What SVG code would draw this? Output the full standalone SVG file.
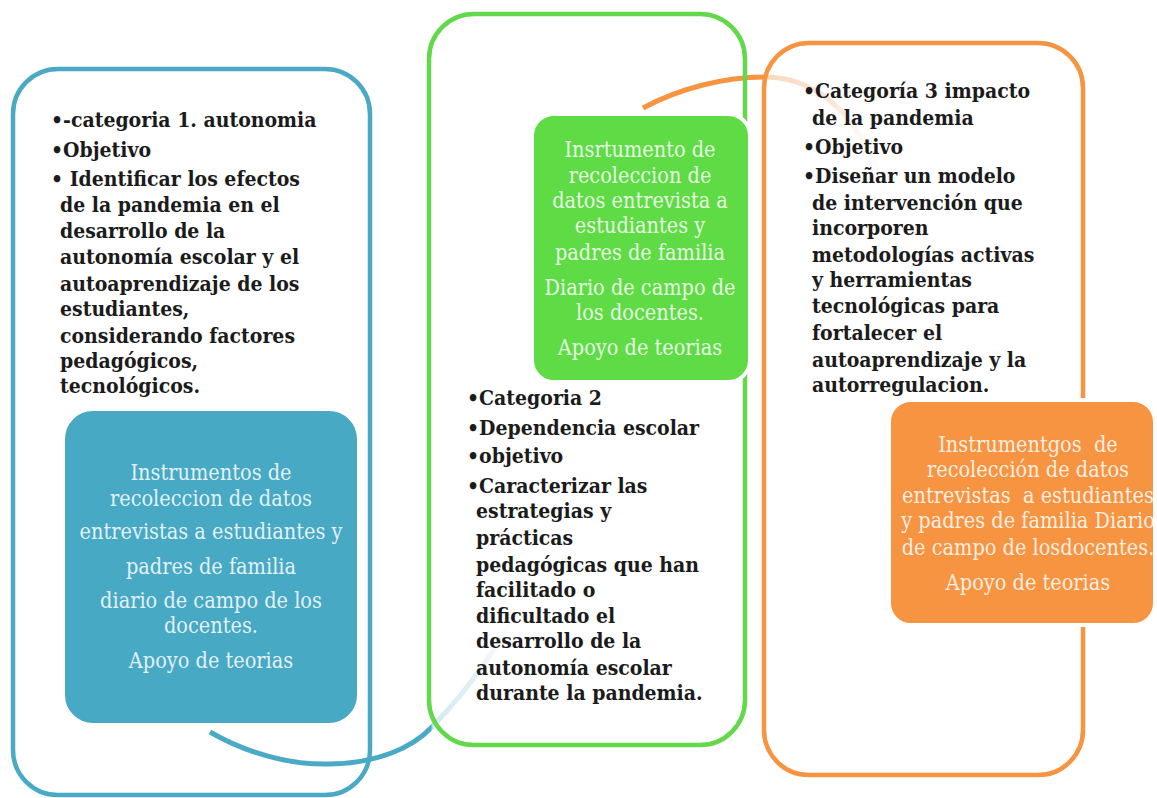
<svg xmlns="http://www.w3.org/2000/svg" width="1157" height="798" viewBox="0 0 1157 798">
<style>
.outer{fill:none;stroke-width:4.5}
.fill{stroke:#ffffff;stroke-width:4}
.b{font-family:"DejaVu Serif",serif;font-stretch:condensed;font-weight:bold;font-size:21px;fill:#1b1b1b}
.w{font-family:"DejaVu Serif",serif;font-stretch:condensed;font-size:21.5px;fill:#ffffff;fill-opacity:0.86;text-anchor:middle;white-space:pre}
.arc{fill:none;stroke-width:5;stroke-linecap:butt}
</style>
<defs>
<linearGradient id="gBlue" gradientUnits="userSpaceOnUse" x1="210" y1="0" x2="526" y2="0">
<stop offset="0" stop-color="#4AAAC5"/>
<stop offset="0.698" stop-color="#4AAAC5"/>
<stop offset="0.706" stop-color="#D3EBF1"/>
<stop offset="0.85" stop-color="#E2F1F5"/>
<stop offset="1" stop-color="#FFFFFF" stop-opacity="0"/>
</linearGradient>
<linearGradient id="gOrange" gradientUnits="userSpaceOnUse" x1="643" y1="0" x2="896" y2="0">
<stop offset="0" stop-color="#F69442"/>
<stop offset="0.476" stop-color="#F69442"/>
<stop offset="0.484" stop-color="#FAD8BE"/>
<stop offset="0.75" stop-color="#FBE6D6"/>
<stop offset="1" stop-color="#FFFFFF" stop-opacity="0"/>
</linearGradient>
</defs>
<rect width="1157" height="798" fill="#ffffff"/>
<g id="connectors">
<path class="arc" stroke="url(#gBlue)" d="M210,732 C255,758 300,765 330,764 C378,763 412,748 432,727 C468,690 505,640 522,595"/>
<path class="arc" stroke="url(#gOrange)" d="M643,108 C680,88 725,77 765,77 C820,77 870,120 892,218"/>
</g>
<g id="node1">
<rect class="outer" x="13" y="69" width="357" height="726" rx="45" stroke="#4AAAC5"/>
<text class="b" x="51" y="127">•-categoria 1. autonomia</text>
<text class="b" x="51" y="157">•Objetivo</text>
<text class="b" x="51" y="186">• Identificar los efectos</text>
<text class="b" x="60" y="212">de la pandemia en el</text>
<text class="b" x="60" y="238">desarrollo de la</text>
<text class="b" x="60" y="264">autonomía escolar y el</text>
<text class="b" x="60" y="291">autoaprendizaje de los</text>
<text class="b" x="60" y="316">estudiantes,</text>
<text class="b" x="60" y="343">considerando factores</text>
<text class="b" x="60" y="368">pedagógicos,</text>
<text class="b" x="60" y="393">tecnológicos.</text>
</g>
<g id="node1-instrumentos">
<rect class="fill" x="63" y="409" width="296" height="316" rx="30" fill="#48A9C4"/>
<text class="w" x="211" y="480">Instrumentos de</text>
<text class="w" x="211" y="506">recoleccion de datos</text>
<text class="w" x="211" y="539">entrevistas a estudiantes y</text>
<text class="w" x="211" y="574">padres de familia</text>
<text class="w" x="211" y="608">diario de campo de los</text>
<text class="w" x="211" y="633">docentes.</text>
<text class="w" x="211" y="668">Apoyo de teorias</text>
</g>
<g id="node2">
<rect class="outer" x="429" y="14" width="316" height="731" rx="45" stroke="#62D84A"/>
<text class="b" x="467" y="405">•Categoria 2</text>
<text class="b" x="467" y="435">•Dependencia escolar</text>
<text class="b" x="467" y="463">•objetivo</text>
<text class="b" x="467" y="493">•Caracterizar las</text>
<text class="b" x="476" y="518">estrategias y</text>
<text class="b" x="476" y="545">prácticas</text>
<text class="b" x="476" y="572">pedagógicas que han</text>
<text class="b" x="476" y="597">facilitado o</text>
<text class="b" x="476" y="623">dificultado el</text>
<text class="b" x="476" y="648">desarrollo de la</text>
<text class="b" x="476" y="675">autonomía escolar</text>
<text class="b" x="476" y="700">durante la pandemia.</text>
</g>
<g id="node2-instrumentos">
<rect class="fill" x="532" y="114" width="218" height="268" rx="22" fill="#5FDB46"/>
<text class="w" x="640" y="157">Insrtumento de</text>
<text class="w" x="640" y="183">recoleccion de</text>
<text class="w" x="640" y="208">datos entrevista a</text>
<text class="w" x="640" y="233">estudiantes y</text>
<text class="w" x="640" y="260">padres de familia</text>
<text class="w" x="640" y="295">Diario de campo de</text>
<text class="w" x="640" y="320">los docentes.</text>
<text class="w" x="640" y="355">Apoyo de teorias</text>
</g>
<g id="node3">
<rect class="outer" x="764" y="43" width="319" height="732" rx="45" stroke="#F69442"/>
<text class="b" x="803" y="98">•Categoría 3 impacto</text>
<text class="b" x="812" y="125">de la pandemia</text>
<text class="b" x="803" y="154">•Objetivo</text>
<text class="b" x="803" y="183">•Diseñar un modelo</text>
<text class="b" x="812" y="210">de intervención que</text>
<text class="b" x="812" y="235">incorporen</text>
<text class="b" x="812" y="262">metodologías activas</text>
<text class="b" x="812" y="287">y herramientas</text>
<text class="b" x="812" y="313">tecnológicas para</text>
<text class="b" x="812" y="340">fortalecer el</text>
<text class="b" x="812" y="367">autoaprendizaje y la</text>
<text class="b" x="812" y="392">autorregulacion.</text>
</g>
<g id="node3-instrumentos">
<rect class="fill" x="889" y="400" width="266" height="225" rx="22" fill="#F69442"/>
<text class="w" x="1028" y="452">Instrumentgos  de</text>
<text class="w" x="1028" y="477">recolección de datos</text>
<text class="w" x="1028" y="503">entrevistas  a estudiantes</text>
<text class="w" x="1028" y="528">y padres de familia Diario</text>
<text class="w" x="1028" y="555">de campo de losdocentes.</text>
<text class="w" x="1028" y="590">Apoyo de teorias</text>
</g>
</svg>
